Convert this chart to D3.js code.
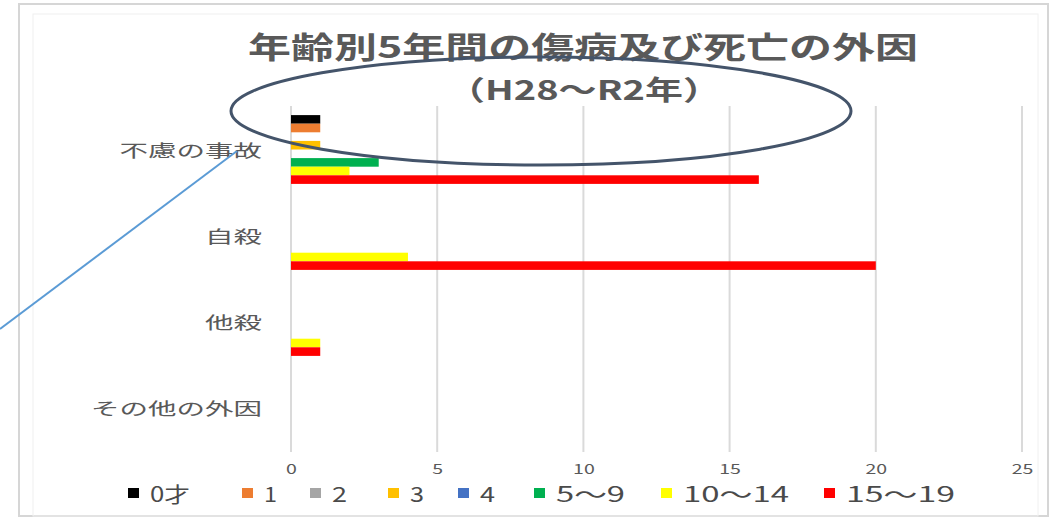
<!DOCTYPE html>
<html>
<head>
<meta charset="utf-8">
<script src="https://cdn.jsdelivr.net/npm/d3@7"></script>
<style>
  body { margin: 0; background: #fff; }
  svg { display: block; }
  text { font-family: "Noto Sans CJK JP", "Noto Sans", sans-serif; fill: #595959; }
</style>
</head>
<body>
<svg id="chart" width="1056" height="518"></svg>
<script>
// Categories (external causes) and age-group series
const categories = ["不慮の事故", "自殺", "他殺", "その他の外因"];
const seriesNames = ["0才", "1", "2", "3", "4", "5～9", "10～14", "15～19"];

// Counts per category, one array per age group
const age0 = [1, 0, 0, 0];
const age1 = [1, 0, 0, 0];
const age2 = [0, 0, 0, 0];
const age3 = [1, 0, 0, 0];
const age4 = [0, 0, 0, 0];
const age5to9 = [3, 0, 0, 0];
const age10to14 = [2, 4, 1, 0];
const age15to19 = [16, 20, 1, 0];

const seriesColors = ["#000000", "#ED7D31", "#A5A5A5", "#FFC000", "#4472C4", "#00B050", "#FFFF00", "#FF0000"];
const xTicks = [0, 5, 10, 15, 20, 25];
const titleLines = ["年齢別5年間の傷病及び死亡の外因", "（H28～R2年）"];

const seriesValues = [age0, age1, age2, age3, age4, age5to9, age10to14, age15to19];
const series = seriesNames.map((name, i) => ({ name, color: seriesColors[i], values: seriesValues[i] }));

const svg = d3.select("#chart");

// Outer chart frame
svg.append("rect")
  .attr("x", 19).attr("y", 4).attr("width", 1029).attr("height", 512)
  .attr("fill", "none").attr("stroke", "#d6d6d6").attr("stroke-width", 2);
svg.append("rect")
  .attr("x", 33).attr("y", 14).attr("width", 1005).attr("height", 502)
  .attr("fill", "none").attr("stroke", "#f0f0f0").attr("stroke-width", 1);

// Scales
const x = d3.scaleLinear().domain([0, 25]).range([291, 1022]);
const y = d3.scaleBand().domain(categories).range([106.5, 450.5]).paddingInner(0.2).paddingOuter(0.1);
const ySeries = d3.scaleBand().domain(seriesNames).range([0, y.bandwidth()]);

const plotTop = 106, plotBottom = 452;

// Vertical gridlines
svg.append("g").selectAll("line")
  .data(xTicks)
  .join("line")
  .attr("x1", d => x(d)).attr("x2", d => x(d))
  .attr("y1", plotTop).attr("y2", plotBottom)
  .attr("stroke", "#dadada").attr("stroke-width", 2);

// Bars
const groups = svg.append("g").selectAll("g")
  .data(categories)
  .join("g")
  .attr("transform", c => `translate(0,${y(c)})`);

groups.selectAll("rect")
  .data((c, ci) => series.map(s => ({ name: s.name, color: s.color, value: s.values[ci] })))
  .join("rect")
  .attr("x", x(0))
  .attr("y", d => ySeries(d.name))
  .attr("width", d => x(d.value) - x(0))
  .attr("height", ySeries.bandwidth())
  .attr("fill", d => d.color);

// Bottom axis (labels only)
const axis = svg.append("g")
  .attr("transform", `translate(0,${plotBottom})`)
  .call(d3.axisBottom(x).tickValues(xTicks).tickSize(0).tickPadding(13));
axis.select(".domain").remove();
axis.selectAll("text")
  .style("font-family", "'Noto Sans CJK JP', sans-serif")
  .attr("font-size", 13)
  .attr("fill", "#595959")
  .attr("transform", "scale(1.5,1)");

// Category labels
svg.append("g").selectAll("text")
  .data(categories)
  .join("text")
  .attr("x", 262)
  .attr("y", c => y(c) + y.bandwidth() / 2)
  .attr("text-anchor", "end")
  .attr("dominant-baseline", "central")
  .attr("font-size", 17)
  .attr("textLength", c => c.length * 28.5)
  .attr("lengthAdjust", "spacingAndGlyphs")
  .text(c => c);

// Title
svg.append("text")
  .attr("x", 583).attr("y", 45)
  .attr("text-anchor", "middle").attr("dominant-baseline", "central")
  .attr("font-size", 30).attr("font-weight", "bold")
  .attr("textLength", 670).attr("lengthAdjust", "spacingAndGlyphs")
  .text(titleLines[0]);
svg.append("text")
  .attr("x", 584).attr("y", 88)
  .attr("text-anchor", "middle").attr("dominant-baseline", "central")
  .attr("font-size", 27).attr("font-weight", "bold")
  .attr("textLength", 274).attr("lengthAdjust", "spacingAndGlyphs")
  .text(titleLines[1]);

// Legend
const legendTextX = [150, 264, 332, 410, 480, 556, 683, 846];
const legendTextW = [40, 13, 15, 14, 15, 69, 106, 109];
const legendY = 493;
const legend = svg.append("g").selectAll("g")
  .data(series)
  .join("g");
legend.append("rect")
  .attr("x", (d, i) => legendTextX[i] - 22)
  .attr("y", legendY - 5)
  .attr("width", 11).attr("height", 10)
  .attr("fill", d => d.color);
legend.append("text")
  .attr("x", (d, i) => legendTextX[i])
  .attr("y", legendY)
  .attr("dominant-baseline", "central")
  .attr("font-size", 21)
  .style("fill", "#4a4a4a")
  .attr("textLength", (d, i) => legendTextW[i])
  .attr("lengthAdjust", "spacingAndGlyphs")
  .text(d => d.name);

// Highlight ellipse around the title and pointer line
svg.append("ellipse")
  .attr("cx", 541).attr("cy", 111).attr("rx", 310).attr("ry", 54)
  .attr("fill", "none").attr("stroke", "#44546A").attr("stroke-width", 3);
svg.append("line")
  .attr("x1", 237).attr("y1", 151).attr("x2", 0).attr("y2", 329)
  .attr("stroke", "#5B9BD5").attr("stroke-width", 2);
</script>
</body>
</html>
